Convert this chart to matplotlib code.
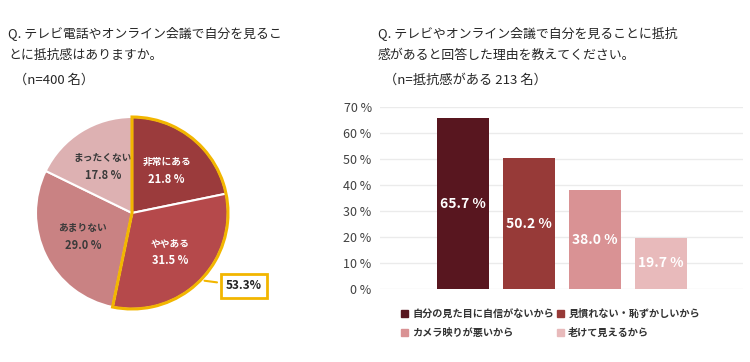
import numpy as np
import matplotlib
matplotlib.use("Agg")
import matplotlib.pyplot as plt
from matplotlib.patches import Wedge, Patch

plt.rcParams['font.family'] = ['Noto Sans CJK JP', 'DejaVu Sans']

# pie data
pie_labels = ["非常にある", "ややある", "あまりない", "まったくない"]
pie_values = [21.8, 31.5, 29.0, 17.8]
pie_colors = ["#9B3B3C", "#B5494B", "#C98283", "#DDB1B2"]
pie_text_colors = ["white", "white", "#3A3A3A", "#3A3A3A"]
highlight_total = "53.3%"

# bar data
bar_labels = ["自分の見た目に自信がないから", "見慣れない・恥ずかしいから",
              "カメラ映りが悪いから", "老けて見えるから"]
bar_values = [65.7, 50.2, 38.0, 19.7]
bar_colors = ["#58161F", "#973A38", "#D99294", "#E8BABB"]
yticks = [0, 10, 20, 30, 40, 50, 60, 70]

W, H = 750, 362
fig = plt.figure(figsize=(W / 100, H / 100), dpi=100)
fig.patch.set_facecolor("white")

def px(x, y):
    return x / W, 1 - y / H

tc = "#262626"
fig.text(*px(8, 33), "Q. テレビ電話やオンライン会議で自分を見るこ", fontsize=9.3, color=tc, va="center")
fig.text(*px(8, 55), "とに抵抗感はありますか。", fontsize=9.3, color=tc, va="center")
fig.text(*px(14, 80), "（n=400 名）", fontsize=9.5, color=tc, va="center")

fig.text(*px(378, 33), "Q. テレビやオンライン会議で自分を見ることに抵抗", fontsize=9.3, color=tc, va="center")
fig.text(*px(378, 55), "感があると回答した理由を教えてください。", fontsize=9.3, color=tc, va="center")
fig.text(*px(384, 80), "（n=抵抗感がある 213 名）", fontsize=9.5, color=tc, va="center")

# ---- pie ----
r_px = 96
cx, cy = 132, 213
half = 1.25 * r_px
axp = fig.add_axes([(cx - half) / W, (H - cy - half) / H, 2 * half / W, 2 * half / H])
wedges, _ = axp.pie(pie_values, colors=pie_colors, startangle=90, counterclock=False,
                    wedgeprops=dict(edgecolor="white", linewidth=1.5))
axp.set_xlim(-1.25, 1.25)
axp.set_ylim(-1.25, 1.25)
axp.set_aspect("equal")

total = sum(pie_values)
start = 90.0
for lab, v, c in zip(pie_labels, pie_values, pie_text_colors):
    span = v / total * 360
    mid = np.radians(start - span / 2)
    rr = 0.57
    tx, ty = rr * np.cos(mid), rr * np.sin(mid)
    axp.text(tx, ty + 0.09, lab, ha="center", va="center",
             color=c, fontsize=7, fontweight="bold")
    axp.text(tx, ty - 0.09, f"{v:.1f} %", ha="center", va="center",
             color=c, fontsize=8, fontweight="bold")
    start -= span

hi = (pie_values[0] + pie_values[1]) / total * 360
axp.add_patch(Wedge((0, 0), 1.0, 90 - hi, 90, fill=False, edgecolor="#F2B600", linewidth=2.2, zorder=5))
ang = np.radians(-44)
axp.annotate(highlight_total, xy=(1.01 * np.cos(ang), 1.01 * np.sin(ang)), xytext=(0.98, -0.76),
             ha="left", va="center", fontsize=8.5, fontweight="bold", color="#222",
             bbox=dict(boxstyle="square,pad=0.45", fc="white", ec="#F2B600", lw=2),
             arrowprops=dict(arrowstyle="-", color="#F2B600", lw=1.5), annotation_clip=False)

# ---- bars ----
axb = fig.add_axes([380 / W, (H - 289) / H, 363 / W, 182 / H])
x = np.arange(len(bar_values))
bars = axb.bar(x, bar_values, width=0.79, color=bar_colors, zorder=3)
for b, v in zip(bars, bar_values):
    axb.text(b.get_x() + b.get_width() / 2, v / 2, f"{v:.1f} %", ha="center", va="center",
             color="white", fontsize=10, fontweight="bold", zorder=4)
axb.set_xlim(-1.26, 4.24)
axb.set_ylim(0, 70)
axb.set_yticks(yticks)
axb.set_yticklabels([f"{t} %" for t in yticks], fontsize=9, color="#404040")
axb.set_xticks([])
axb.tick_params(axis="y", length=0, pad=6)
axb.grid(axis="y", color="#EBEBEB", linewidth=1, zorder=0)
for s in axb.spines.values():
    s.set_visible(False)

handles = [Patch(color=c) for c in bar_colors]
order = [0, 2, 1, 3]
fig.legend([handles[i] for i in order], [bar_labels[i] for i in order], ncol=2,
           loc="upper left", bbox_to_anchor=px(392, 300), frameon=False,
           prop=dict(size=7.3, weight="bold"), handlelength=0.7, handleheight=0.7,
           handletextpad=0.4, columnspacing=0.3, labelspacing=0.85, labelcolor="#333")

fig.savefig("out.png", dpi=100, facecolor="white")
